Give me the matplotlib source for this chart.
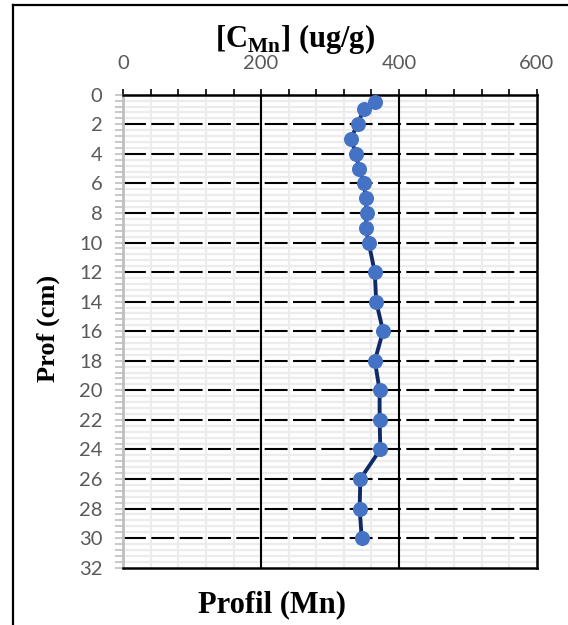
import numpy as np
import matplotlib
matplotlib.use("Agg")
import matplotlib.pyplot as plt
from matplotlib.lines import Line2D

# depth profile of manganese concentration
depth_cm = [0.5, 1, 2, 3, 4, 5, 6, 7, 8, 9, 10, 12, 14, 16, 18, 20, 22, 24, 26, 28, 30]
mn_ugg = [366, 349, 340, 330, 338, 342, 349, 352, 353, 352, 356,
          365, 367, 377, 365, 372, 372, 373, 344, 343, 346]

x_ticks = [0, 200, 400, 600]
y_ticks = list(range(0, 33, 2))

plt.rcParams["mathtext.fontset"] = "custom"
plt.rcParams["mathtext.rm"] = "Liberation Serif:bold"
plt.rcParams["mathtext.bf"] = "Liberation Serif:bold"

fig = plt.figure(figsize=(5.68, 6.25), dpi=100)
ax = fig.add_axes([0.2171, 0.0917, 0.7278, 0.7568])

ax.set_xlim(0, 600)
ax.set_ylim(32, 0)
ax.xaxis.tick_top()

# light minor grid
for xv in np.arange(40, 600, 40):
    ax.axvline(xv, color="#ececec", lw=1.6, zorder=0)
for yv in np.arange(0.4, 32, 0.4):
    if abs(yv / 2 - round(yv / 2)) > 1e-6:
        ax.axhline(yv, color="#ececec", lw=1.6, zorder=0)

# major grid: dashed horizontal, solid vertical
for yv in y_ticks[1:-1]:
    ax.axhline(yv, color="black", lw=1.5, linestyle=(0, (11, 2.6)), zorder=1)
for xv in x_ticks[1:-1]:
    ax.axvline(xv, color="black", lw=1.5, zorder=2)

ax.plot(mn_ugg, depth_cm, color="#0f2a66", lw=2.8, marker="o",
        markersize=9.8, markerfacecolor="#4472c4", markeredgecolor="#4472c4",
        zorder=3, clip_on=False)

ax.set_xticks(x_ticks)
ax.set_xticks(np.arange(0, 601, 40), minor=True)
ax.set_yticks(y_ticks)
ax.set_yticks(np.arange(0, 32.01, 0.4), minor=True)

ax.tick_params(axis="x", which="both", direction="out", length=4, width=1.2,
               color="black", top=True, bottom=False)
ax.tick_params(axis="x", which="major", pad=12, labelsize=14.5, labelcolor="#595959")
ax.tick_params(axis="y", which="both", direction="out", length=6, width=1.2,
               color="#bfbfbf")
ax.tick_params(axis="y", which="major", pad=9, labelsize=14.5, labelcolor="#595959")

for lab in ax.get_xticklabels() + ax.get_yticklabels():
    lab.set_fontfamily("Lato")

for side in ["top", "right", "bottom"]:
    ax.spines[side].set_color("black")
    ax.spines[side].set_linewidth(1.8)
ax.spines["left"].set_color("#bfbfbf")
ax.spines["left"].set_linewidth(2)

fig.text(0.519, 0.925, r"[C$_{\mathbf{Mn}}$] (ug/g)", ha="center", va="baseline",
         fontsize=22, fontweight="bold", family="Liberation Serif")
fig.text(0.479, 0.032, "Profil (Mn)", ha="center", va="center",
         fontsize=22, fontweight="bold", family="Liberation Serif")
fig.text(0.085, 0.475, "Prof (cm)", ha="center", va="center", rotation=90,
         fontsize=19, fontweight="bold", family="Liberation Serif")

# chart frame
fig.add_artist(Line2D([13 / 568, 1], [1 - 5 / 625, 1 - 5 / 625],
                      transform=fig.transFigure, color="black", lw=1.6))
fig.add_artist(Line2D([13 / 568, 13 / 568], [0, 1 - 5 / 625],
                      transform=fig.transFigure, color="black", lw=1.6))

fig.savefig("out.png", dpi=100)
